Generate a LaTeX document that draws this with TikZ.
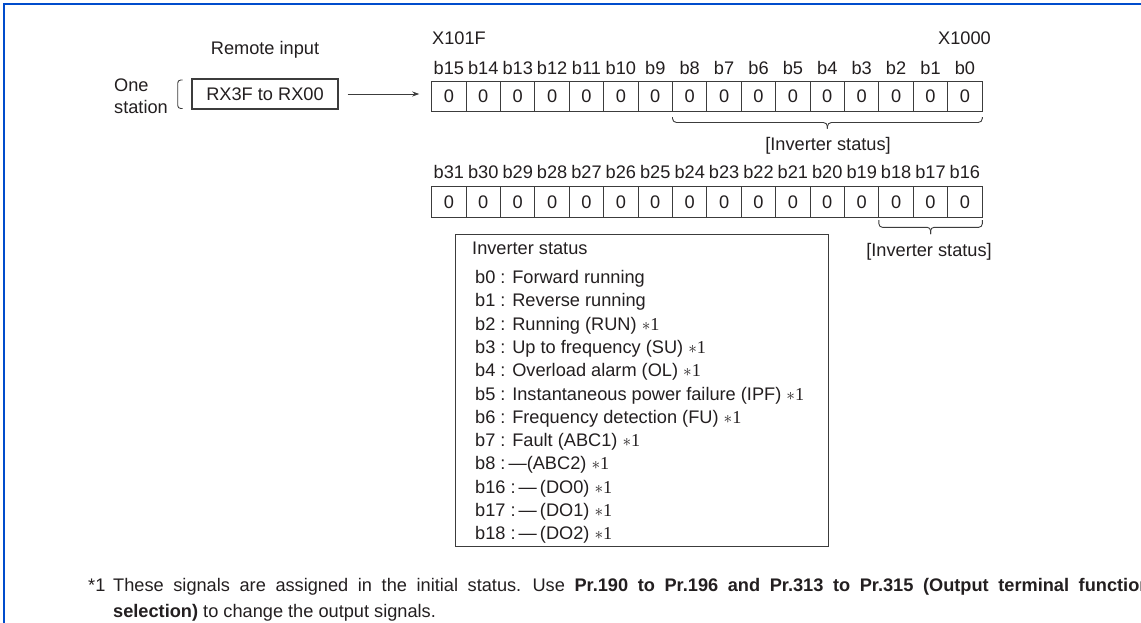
\documentclass[tikz,border=0pt]{standalone}
\usepackage{fontspec}
\setmainfont{Liberation Sans}
\newfontfamily\tmsfont{Liberation Serif}
\usetikzlibrary{arrows.meta}
\definecolor{framecol}{RGB}{0,76,204}
\definecolor{ink}{RGB}{35,31,32}
\definecolor{lin}{RGB}{60,60,60}
\newcommand{\sone}{{\tmsfont$\ast$1}}
\begin{document}
\begin{tikzpicture}[x=1pt,y=-1pt,
  txt/.style={font=\fontsize{18.2}{23.3}\selectfont, inner sep=0pt, text=ink},
  cell/.style={draw=lin, line width=0.9pt, minimum width=34.4pt, minimum height=30.6pt, inner sep=0pt, font=\fontsize{18.2}{23.3}\selectfont, text=ink},
  brc/.style={draw=lin, line width=0.9pt, rounded corners=4pt},
  boxline/.style={draw=lin, line width=1.1pt, inner sep=0pt}]
\useasboundingbox (0,0) rectangle (1141,622);
\fill[white] (0,0) rectangle (1141,622);
\draw[framecol, line width=2pt] (4,630) -- (4,4) -- (1150,4);

% remote input
\node[txt, anchor=base] (remote) at (265,54.5) {Remote input};
\node[boxline, line width=1.2pt, minimum width=146pt, minimum height=30pt, txt] (rx) at (265,94) {RX3F to RX00};
\node[txt, anchor=base west] (one) at (114,91.5) {One};
\node[txt, anchor=base west] (station) at (114,113.5) {station};
\draw[lin, line width=0.9pt, rounded corners=3pt] (182.5,80) -- (177.7,80) -- (177.7,108.5) -- (182.5,108.5);

% bit rows
\node[txt, anchor=base west] (x101f) at (432,44.5) {X101F};
\node[txt, anchor=base east] (x1000) at (991,44.5) {X1000};
\foreach \k in {0,...,15} {
  \pgfmathtruncatemacro\bit{15-\k}
  \pgfmathtruncatemacro\bitt{31-\k}
  \node[cell] (b\bit) at ({431.7+34.4*(\k+0.5)},96.3) {0};
  \node[txt] (lb\bit) at ({431.7+34.4*(\k+0.5)},67.5) {b\bit};
  \node[cell] (b\bitt) at ({431.7+34.4*(\k+0.5)},202) {0};
  \node[txt] (lb\bitt) at ({431.7+34.4*(\k+0.5)},172) {b\bitt};
}
\draw[-{Stealth[length=7pt,width=5pt]}, lin, line width=0.9pt, shorten <=9pt, shorten >=12pt] (rx.east) -- (rx.east -| b15.west);

% braces
\draw[brc] (672.5,117) -- (672.5,122.5) -- (827.4,122.5) -- (827.4,128.5);
\draw[brc] (982.3,117) -- (982.3,122.5) -- (827.4,122.5) -- (827.4,128.5);
\node[txt, anchor=base] (st1) at (828,150.5) {[Inverter status]};
\draw[brc, rounded corners=3.5pt] (878.9,220) -- (878.9,227.3) -- (930.6,227.3) -- (930.6,234);
\draw[brc, rounded corners=3.5pt] (982.3,220) -- (982.3,227.3) -- (930.6,227.3) -- (930.6,234);
\node[txt, anchor=base] (st2) at (929,256.5) {[Inverter status]};

% status box
\node[boxline, minimum width=373pt, minimum height=312pt, anchor=north west] (stat) at (455,234) {};
\node[txt, anchor=base west] (title) at (472,254.5) {Inverter status};
\foreach [count=\i from 0] \t in {
  {b0 : Forward running},
  {b1 : Reverse running},
  {b2 : Running (RUN) \sone},
  {b3 : Up to frequency (SU) \sone},
  {b4 : Overload alarm (OL) \sone},
  {b5 : Instantaneous power failure (IPF) \sone},
  {b6 : Frequency detection (FU) \sone},
  {b7 : Fault (ABC1) \sone},
  {b8 :\,—(ABC2) \sone},
  {b16 :\,—\,(DO0) \sone},
  {b17 :\,—\,(DO1) \sone},
  {b18 :\,—\,(DO2) \sone}} {
  \node[txt, anchor=base west] (item\i) at (475,{283.5+23.3*\i}) {\t};
}

% footnote (first line is justified in the source, so its spaces are wider)
\node[txt, anchor=base west] (fnmark) at (88,591.5) {*1};
\node[txt, anchor=base west] (fn1) at (113,591.5) {\spaceskip=9.6pt These signals are assigned in the initial status. Use \textbf{Pr.190 to Pr.196 and Pr.313 to Pr.315 (Output terminal function}};
\node[txt, anchor=base west] (fn2) at (113,617) {\textbf{selection)} to change the output signals.};
\end{tikzpicture}
\end{document}
